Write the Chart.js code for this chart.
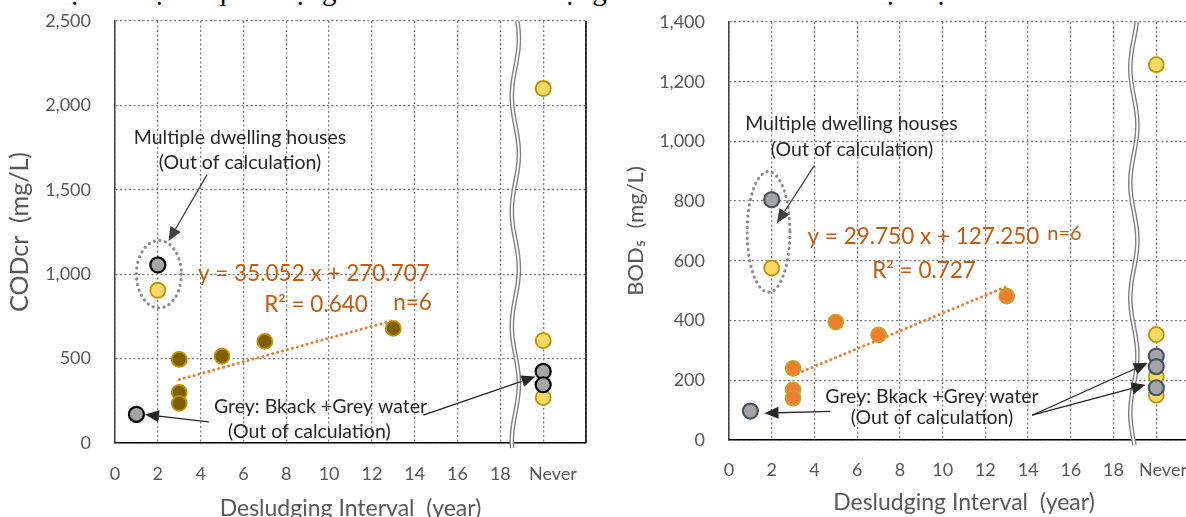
<!DOCTYPE html>
<html>
<head>
<meta charset="utf-8">
<script src="https://cdn.jsdelivr.net/npm/chart.js@4.4.1/dist/chart.umd.min.js"></script>
<style>
  html, body { margin: 0; padding: 0; background: #fff; overflow: hidden; width: 1186px; height: 517px; }
  #caption { position: absolute; left: 4px; top: -26px; font: 29px/33px "Liberation Serif", serif; color: #000; white-space: nowrap; }
  #codBox { position: absolute; left: 0; top: 0; width: 600px; height: 540px; }
  #bodBox { position: absolute; left: 600px; top: 0; width: 620px; height: 540px; }
</style>
</head>
<body>
<div id="caption">Giá trị và tỉ lệ sắt quan trọng để các thiết chất lượng nước thải đầu ra từ bể tự hoại.</div>
<div id="codBox"><canvas id="cod" width="600" height="540"></canvas></div>
<div id="bodBox"><canvas id="bod" width="620" height="540"></canvas></div>
<script>
// ---- shared axis data ----
const NEVER = 20;                       // column used for tanks that are never desludged
const xTickValues = [0, 2, 4, 6, 8, 10, 12, 14, 16, 18, 20, 22];
const xTickLabels = ['0', '2', '4', '6', '8', '10', '12', '14', '16', '18', 'Never', ''];

// ---- CODcr ----
const codTicks = [0, 500, 1000, 1500, 2000, 2500];
const codFitX = [3, 3, 3, 5, 7, 13];
const codFitY = [495, 300, 235, 514, 602, 679];
const codYellowX = [2, NEVER, NEVER, NEVER];
const codYellowY = [905, 2100, 607, 269];
const codGreyX = [1, 2, NEVER, NEVER];
const codGreyY = [170, 1055, 424, 345];
const codSlope = 35.052, codIntercept = 270.707, codR2 = 0.640;

// ---- BOD5 ----
const bodTicks = [0, 200, 400, 600, 800, 1000, 1200, 1400];
const bodFitX = [3, 3, 3, 5, 7, 13];
const bodFitY = [240, 168, 140, 395, 352, 482];
const bodYellowX = [2, NEVER, NEVER, NEVER, NEVER];
const bodYellowY = [576, 1257, 353, 213, 150];
const bodGreyX = [1, 2, NEVER, NEVER, NEVER];
const bodGreyY = [97, 805, 281, 246, 175];
const bodSlope = 29.750, bodIntercept = 127.250, bodR2 = 0.727;

const FONT = 'Lato';
const TICK_COLOR = '#595959';
const GRID_COLOR = '#7f7f7f';

function pts(xs, ys) { return xs.map((x, i) => ({ x: x, y: ys[i] })); }
function commas(v) { return String(v).replace(/\B(?=(\d{3})+(?!\d))/g, ','); }
function fitLine(xs, slope, intercept) {
  const lo = Math.min(...xs), hi = Math.max(...xs);
  return [{ x: lo, y: slope * lo + intercept }, { x: hi, y: slope * hi + intercept }];
}
function noEdgePadding(s) { s.paddingLeft = s.paddingRight = s.paddingTop = s.paddingBottom = 0; }

// Callouts, break marks and the plot frame, drawn through the chart's scales
function makeNotes(cfg) {
  return {
    id: 'notes',
    afterDatasetsDraw(chart) {
      const { ctx, chartArea: ca, scales: { x, y } } = chart;
      const px = v => x.getPixelForValue(v), py = v => y.getPixelForValue(v);
      ctx.save();
      // right frame
      if (cfg.rightFrame) {
        ctx.strokeStyle = '#000'; ctx.lineWidth = 1.5; ctx.setLineDash([]);
        ctx.beginPath(); ctx.moveTo(ca.right, ca.top); ctx.lineTo(ca.right, ca.bottom); ctx.stroke();
      }
      // axis break (double wavy line)
      const w = cfg.wave;
      const cx = px(w.x);
      const path = () => {
        ctx.beginPath();
        for (let yy = ca.top; yy <= ca.bottom + w.below; yy += 1) {
          const xx = cx + w.amp * Math.sin(2 * Math.PI * (yy - ca.top) / w.period + w.phase);
          if (yy === ca.top) ctx.moveTo(xx, yy); else ctx.lineTo(xx, yy);
        }
      };
      ctx.setLineDash([]);
      ctx.lineJoin = 'round';
      ctx.strokeStyle = '#808080'; ctx.lineWidth = 4.6; path(); ctx.stroke();
      ctx.strokeStyle = '#ffffff'; ctx.lineWidth = 1.8; path(); ctx.stroke();
      // dotted ellipse
      const e = cfg.ellipse;
      ctx.strokeStyle = '#8c8c8c'; ctx.lineWidth = 3.2; ctx.lineCap = 'round';
      ctx.setLineDash([0.1, 5.5]);
      ctx.beginPath();
      ctx.ellipse(px(e.x), py(e.y), Math.abs(px(e.x + e.rx) - px(e.x)), Math.abs(py(e.y + e.ry) - py(e.y)), 0, 0, Math.PI * 2);
      ctx.stroke();
      ctx.setLineDash([]); ctx.lineCap = 'butt';
      // arrows
      cfg.arrows.forEach(a => {
        const x1 = px(a.from[0]), y1 = py(a.from[1]), x2 = px(a.to[0]), y2 = py(a.to[1]);
        const ang = Math.atan2(y2 - y1, x2 - x1), L = 14, H = 6;
        const bx = x2 - L * Math.cos(ang), by = y2 - L * Math.sin(ang);
        ctx.strokeStyle = a.color; ctx.fillStyle = a.color; ctx.lineWidth = 1.3;
        ctx.beginPath(); ctx.moveTo(x1, y1); ctx.lineTo(bx, by); ctx.stroke();
        ctx.beginPath();
        ctx.moveTo(x2, y2);
        ctx.lineTo(bx + H * Math.sin(ang), by - H * Math.cos(ang));
        ctx.lineTo(bx - H * Math.sin(ang), by + H * Math.cos(ang));
        ctx.closePath(); ctx.fill();
      });
      // text
      ctx.textAlign = 'center'; ctx.textBaseline = 'middle';
      cfg.texts.forEach(t => {
        ctx.font = t.size + 'px ' + FONT;
        ctx.fillStyle = t.color;
        ctx.fillText(t.text, px(t.x), py(t.y));
      });
      ctx.restore();
    }
  };
}

function buildChart(id, o) {
  const dotted = { color: GRID_COLOR, lineWidth: 1.3, drawTicks: false };
  return new Chart(document.getElementById(id), {
    type: 'scatter',
    data: {
      datasets: [
        { data: pts(o.greyX, o.greyY), order: 0, pointRadius: 7.5, pointBackgroundColor: '#a5a5a5',
          pointBorderColor: o.greyBorder, pointBorderWidth: 2.2 },
        { data: pts(o.yellowX, o.yellowY), order: 1, pointRadius: 7.5, pointBackgroundColor: '#ffd966',
          pointBorderColor: '#c09100', pointBorderWidth: 1.8 },
        { data: pts(o.fitX, o.fitY), order: 2, pointRadius: 7.5, pointBackgroundColor: o.fitFill,
          pointBorderColor: o.fitBorder, pointBorderWidth: 1.8 },
        { data: fitLine(o.fitX, o.slope, o.intercept), order: 3, showLine: true, pointRadius: 0,
          borderColor: '#ed7d31', borderWidth: 3, borderDash: [0.1, 5], borderCapStyle: 'round' }
      ]
    },
    options: {
      responsive: false, animation: false, events: [],
      layout: { padding: o.padding },
      plugins: { legend: { display: false }, tooltip: { enabled: false } },
      scales: {
        x: {
          type: 'linear', min: 0, max: 22,
          afterBuildTicks: s => { s.ticks = xTickValues.map(v => ({ value: v })); },
          ticks: {
            autoSkip: false, maxRotation: 0, padding: o.xTickPad, color: TICK_COLOR,
            font: { family: FONT, size: 18 },
            callback: (v, i) => xTickLabels[i] === 'Never' ? o.neverPad + 'Never' : xTickLabels[i]
          },
          grid: dotted,
          border: { color: '#000', width: 1.5, dash: [2, 2.5] },
          title: { display: true, text: 'Desludging Interval  (year)', color: TICK_COLOR,
                   font: { family: FONT, size: 23 }, padding: { top: o.xTitlePad, bottom: o.xTitlePad } },
          afterFit: s => { s.height = o.xHeight; noEdgePadding(s); }
        },
        y: {
          min: 0, max: o.yMax,
          afterBuildTicks: s => { s.ticks = o.yTicks.map(v => ({ value: v })); },
          ticks: { padding: 24, color: TICK_COLOR, font: { family: FONT, size: 18 }, callback: v => commas(v) },
          grid: dotted,
          border: { color: '#404040', width: 1.5, dash: [2, 2.5] },
          title: { display: true, text: o.yTitle, color: TICK_COLOR,
                   font: { family: FONT, size: o.yTitleSize }, padding: { top: o.yTitlePad, bottom: o.yTitlePad } },
          afterFit: s => { s.width = o.yWidth; noEdgePadding(s); }
        }
      }
    },
    plugins: [makeNotes(o.notes)]
  });
}

const EQ = '#c55a11';
const INK = '#262626';
const eqText = (m, b) => 'y = ' + m.toFixed(3) + ' x + ' + b.toFixed(3);
const r2Text = r => 'R\u00b2 = ' + r.toFixed(3);

buildChart('cod', {
  greyX: codGreyX, greyY: codGreyY, greyBorder: '#000000',
  yellowX: codYellowX, yellowY: codYellowY,
  fitX: codFitX, fitY: codFitY, fitFill: '#7f6000', fitBorder: '#c09100',
  slope: codSlope, intercept: codIntercept,
  yMax: 2500, yTicks: codTicks, yTitle: 'CODcr  (mg/L)', yTitleSize: 25, yTitlePad: 5,
  padding: { left: 0, top: 21, right: 14, bottom: 0 },
  yWidth: 115, xHeight: 97, xTickPad: 20, xTitlePad: 18, neverPad: '\u2003\u2004',
  notes: {
    rightFrame: true,
    wave: { x: 18.7, amp: 3.5, period: 115, phase: 0.6, below: 5 },
    ellipse: { x: 2.05, y: 1000, rx: 1.05, ry: 200 },
    arrows: [
      { from: [4.3, 1590], to: [2.5, 1196], color: '#404040' },
      { from: [4.38, 125], to: [1.4, 169], color: INK },
      { from: [14.4, 165], to: [19.64, 394], color: INK }
    ],
    texts: [
      { text: 'Multiple dwelling houses', x: 5.84, y: 1809, size: 19.5, color: INK },
      { text: '(Out of calculation)', x: 5.84, y: 1659, size: 19.5, color: INK },
      { text: eqText(codSlope, codIntercept), x: 9.29, y: 1000, size: 22.5, color: EQ },
      { text: r2Text(codR2), x: 9.39, y: 821, size: 22.5, color: EQ },
      { text: 'n=' + codFitX.length, x: 13.9, y: 833, size: 22.5, color: EQ },
      { text: 'Grey: Bkack +Grey water', x: 9.6, y: 216, size: 19.5, color: INK },
      { text: '(Out of calculation)', x: 9.08, y: 67, size: 19.5, color: INK }
    ]
  }
});

buildChart('bod', {
  greyX: bodGreyX, greyY: bodGreyY, greyBorder: '#44546a',
  yellowX: bodYellowX, yellowY: bodYellowY,
  fitX: bodFitX, fitY: bodFitY, fitFill: '#ed7d31', fitBorder: '#c9a227',
  slope: bodSlope, intercept: bodIntercept,
  yMax: 1400, yTicks: bodTicks, yTitle: 'BOD\u2085  (mg/L)', yTitleSize: 22, yTitlePad: 23,
  padding: { left: 0, top: 22, right: 21, bottom: 0 },
  yWidth: 129, xHeight: 100, xTickPad: 19, xTitlePad: 24, neverPad: '\u2003',
  notes: {
    rightFrame: false,
    wave: { x: 18.95, amp: 3.5, period: 115, phase: 2.2, below: 5 },
    ellipse: { x: 1.85, y: 697, rx: 1.0, ry: 202 },
    arrows: [
      { from: [4.0, 920], to: [2.24, 726], color: '#404040' },
      { from: [4.74, 96], to: [1.66, 90], color: INK },
      { from: [14.19, 83], to: [19.6, 258], color: INK },
      { from: [14.19, 83], to: [19.5, 185], color: INK }
    ],
    texts: [
      { text: 'Multiple dwelling houses', x: 5.73, y: 1060, size: 19.5, color: INK },
      { text: '(Out of calculation)', x: 5.76, y: 973, size: 19.5, color: INK },
      { text: eqText(bodSlope, bodIntercept), x: 9.1, y: 681, size: 22.5, color: EQ },
      { text: 'n=' + bodFitX.length, x: 15.7, y: 690, size: 20, color: EQ },
      { text: r2Text(bodR2), x: 9.13, y: 568, size: 22.5, color: EQ },
      { text: 'Grey: Bkack +Grey water', x: 9.5, y: 146, size: 19.5, color: INK },
      { text: '(Out of calculation)', x: 9.5, y: 75, size: 19.5, color: INK }
    ]
  }
});
</script>
</body>
</html>
